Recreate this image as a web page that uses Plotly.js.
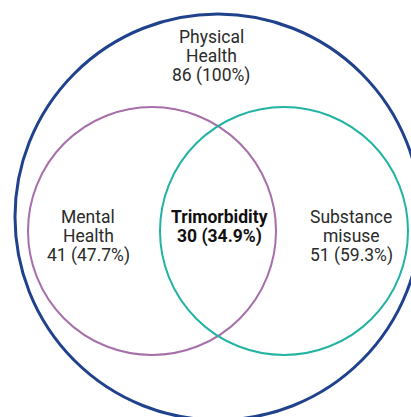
<!DOCTYPE html>
<html>
<head>
<meta charset="utf-8">
<script src="https://cdn.plot.ly/plotly-3.0.1.min.js"></script>
<style>
  html, body { margin: 0; padding: 0; background: #fff; }
  #venn { width: 411px; height: 417px; }
</style>
</head>
<body>
<div id="venn"></div>
<script>
// Datos del diagrama
const setNames = ['Physical Health', 'Mental Health', 'Substance misuse', 'Trimorbidity'];
const labelLines = [['Physical', 'Health'], ['Mental', 'Health'], ['Substance', 'misuse'], ['Trimorbidity']];
const counts = [86, 41, 51, 30];
const percents = [100, 47.7, 59.3, 34.9];

// Geometría (en píxeles del lienzo)
const circulos = [
  { cx: 218, cy: 217, r: 203, color: '#20418c', width: 3 },
  { cx: 152, cy: 231, r: 124, color: '#a66fa9', width: 2 },
  { cx: 284, cy: 231, r: 124, color: '#22b3a3', width: 2 }
];
const posEtiquetas = [
  { x: 211, y: 37 },
  { x: 88, y: 217 },
  { x: 351, y: 217 },
  { x: 219, y: 217 }
];
const interlineado = 19;

const shapes = circulos.map(c => ({
  type: 'circle', xref: 'x', yref: 'y',
  x0: c.cx - c.r, x1: c.cx + c.r, y0: c.cy - c.r, y1: c.cy + c.r,
  line: { color: c.color, width: c.width },
  fillcolor: 'rgba(0,0,0,0)'
}));

const annotations = [];
setNames.forEach((name, i) => {
  const negrita = name === 'Trimorbidity';
  const lineas = labelLines[i].concat([counts[i] + ' (' + percents[i] + '%)']);
  lineas.forEach((t, j) => {
    annotations.push({
      xref: 'x', yref: 'y',
      x: posEtiquetas[i].x, y: posEtiquetas[i].y + j * interlineado,
      text: negrita ? '<b>' + t + '</b>' : t,
      showarrow: false, xanchor: 'center', yanchor: 'middle',
      font: { family: 'Roboto', size: 17.5, color: negrita ? '#111' : '#2b2b2b' }
    });
  });
});

const layout = {
  width: 411, height: 417,
  margin: { l: 0, r: 0, t: 0, b: 0 },
  paper_bgcolor: '#fff', plot_bgcolor: '#fff',
  showlegend: false,
  xaxis: { range: [0, 411], visible: false, fixedrange: true },
  yaxis: { range: [417, 0], visible: false, fixedrange: true },
  shapes: shapes,
  annotations: annotations
};

Plotly.newPlot('venn', [{ x: [], y: [], type: 'scatter', mode: 'markers' }], layout, { displayModeBar: false, staticPlot: true });
</script>
</body>
</html>
